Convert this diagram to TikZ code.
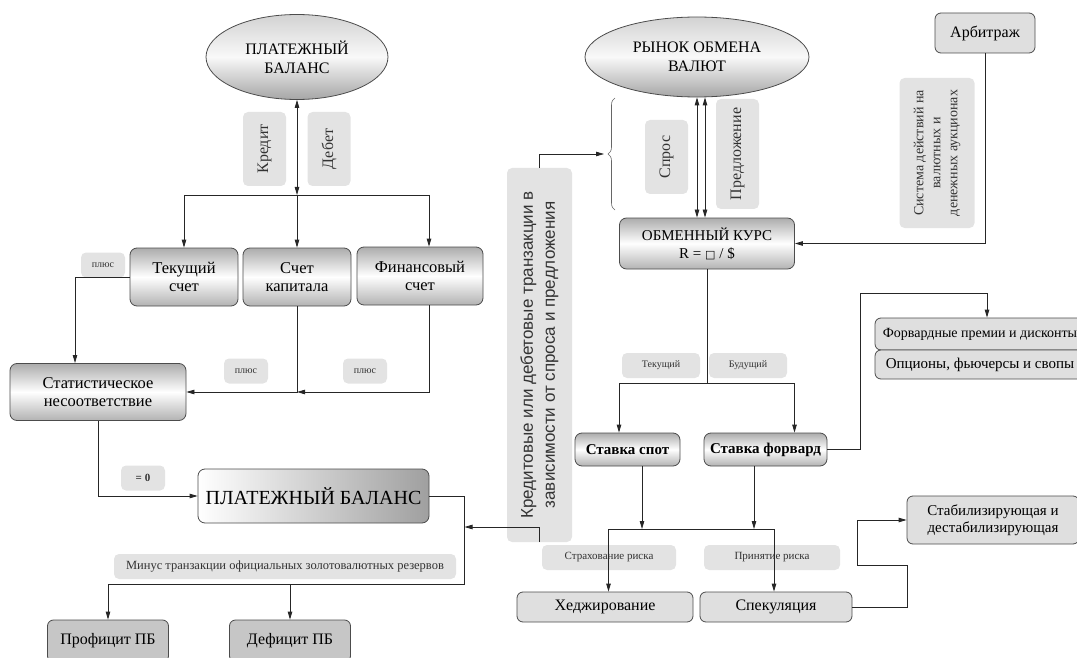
\documentclass[tikz,border=0pt]{standalone}
\usepackage{fontspec}
\setmainfont{Liberation Serif}
\newfontfamily\labelsans{Liberation Sans}
\newfontfamily\glyphfont{DejaVu Sans}
\usepackage{tikz}
\usetikzlibrary{shapes,arrows.meta,positioning,calc,decorations.pathreplacing}

\begin{document}
\begin{tikzpicture}[x=1pt, y=-1pt,
    line/.style={draw=black!85, line width=0.8pt},
    conn/.style={line, -{Triangle[length=8pt,width=4.5pt]}},
    biconn/.style={line, {Triangle[length=8pt,width=4.5pt]}-{Triangle[length=8pt,width=4.5pt]}},
    gbox/.style={rectangle, rounded corners=7, draw=black!70, line width=0.8pt,
        top color=gray!65, bottom color=gray!60, middle color=white,
        align=center, inner sep=1pt, font=\fontsize{16.5}{17.5}\selectfont},
    oval/.style={ellipse, draw=black!70, line width=0.8pt,
        top color=gray!35, bottom color=gray!70, middle color=white!95!gray,
        align=center, inner sep=1pt, font=\fontsize{16}{19}\selectfont},
    fbox/.style={rectangle, rounded corners=6, draw=black!70, line width=0.8pt,
        fill=gray!25, align=center, inner sep=1pt, font=\fontsize{16}{17}\selectfont},
    lbl/.style={rectangle, rounded corners=5, fill=gray!22, text=black!80,
        align=center, inner sep=1pt, font=\fontsize{10}{12}\selectfont},
    vlbl/.style={lbl, rotate=90, font=\fontsize{16}{18}\selectfont}
]
    \useasboundingbox (0,0) rectangle (1077,658);
    \clip (0,0) rectangle (1077,658);

    % Balance of payments, top
    \node [oval, minimum width=182, minimum height=85] (pbOval) at (297,57) {ПЛАТЕЖНЫЙ\\БАЛАНС};
    \node [vlbl, minimum width=74, minimum height=43] (lblCredit) at (264.5,149) {Кредит};
    \node [vlbl, minimum width=74, minimum height=43] (lblDebit) at (329,149) {Дебет};

    % Accounts
    \node [gbox, minimum width=108, minimum height=58] (curAcc) at (184,277) {Текущий\\счет};
    \node [gbox, minimum width=108, minimum height=58] (capAcc) at (297,277) {Счет\\капитала};
    \node [gbox, minimum width=126, minimum height=58] (finAcc) at (420,276) {Финансовый\\счет};
    \node [lbl, minimum width=44, minimum height=25] (plusCur) at (103,265) {плюс};
    \node [lbl, minimum width=44, minimum height=25] (plusCap) at (246,371) {плюс};
    \node [lbl, minimum width=44, minimum height=25] (plusFin) at (365,371) {плюс};

    \node [gbox, minimum width=176, minimum height=57] (statDisc) at (98,392) {Статистическое\\несоответствие};
    \node [lbl, minimum width=44, minimum height=25, font=\fontsize{11}{12}\selectfont\bfseries] (eqZero) at (143,478) {= 0};
    \node [gbox, minimum width=231, minimum height=54, shading angle=0, left color=white, right color=gray!75,
        font=\fontsize{20}{22}\selectfont] (pbBox) at (313.5,496) {ПЛАТЕЖНЫЙ БАЛАНС};
    \node [lbl, minimum width=342, minimum height=25, font=\fontsize{12.5}{14}\selectfont] (minusRes) at (285,566.5)
        {Минус транзакции официальных золотовалютных резервов};
    \node [fbox, fill=gray!45, minimum width=121, minimum height=42] (surplus) at (108,641) {Профицит ПБ};
    \node [fbox, fill=gray!45, minimum width=121, minimum height=42] (deficit) at (290,641) {Дефицит ПБ};

    % Middle label
    \node [lbl, rotate=90, minimum width=374, minimum height=65, font=\labelsans\fontsize{17}{22}\selectfont]
        (transLbl) at (539.5,355) {Кредитовые или дебетовые транзакции в\\зависимости от спроса и предложения};

    % Foreign exchange market
    \node [oval, minimum width=224, minimum height=80] (fxOval) at (697,57) {РЫНОК ОБМЕНА\\ВАЛЮТ};
    \node [vlbl, minimum width=74, minimum height=43] (lblDemand) at (666.5,157) {Спрос};
    \node [vlbl, minimum width=110, minimum height=43] (lblSupply) at (737.5,154) {Предложение};
    \node [gbox, minimum width=175, minimum height=51, font=\fontsize{15}{18}\selectfont] (fxRate) at (707,243.5)
        {ОБМЕННЫЙ КУРС\\R = {\glyphfont\fontsize{11}{12}\selectfont □} / \$};
    \node [fbox, minimum width=100, minimum height=40] (arbitr) at (985,33) {Арбитраж};
    \node [lbl, rotate=90, minimum width=150, minimum height=75, font=\fontsize{14}{17}\selectfont]
        (lblSystem) at (937,153) {Система действий на\\валютных и\\денежных аукционах};

    % Rates
    \node [lbl, minimum width=78, minimum height=25] (lblCurrent) at (661,365.5) {Текущий};
    \node [lbl, minimum width=78, minimum height=25] (lblFuture) at (748,365.5) {Будущий};
    \node [gbox, minimum width=105, minimum height=33, font=\fontsize{15}{17}\selectfont\bfseries] (spotRate) at (627.5,449.5) {Ставка спот};
    \node [gbox, minimum width=123, minimum height=33, font=\fontsize{15}{17}\selectfont\bfseries] (fwdRate) at (765.5,449.5) {Ставка форвард};
    \node [fbox, minimum width=210, minimum height=32, font=\fontsize{14}{17}\selectfont] (fwdPrem) at (980,334) {Форвардные премии и дисконты};
    \node [fbox, minimum width=210, minimum height=29, font=\fontsize{15}{17}\selectfont] (options) at (980,364.5) {Опционы, фьючерсы и свопы};

    % Risk
    \node [lbl, minimum width=134, minimum height=25, font=\fontsize{11}{12}\selectfont] (lblHedge) at (609,557.5) {Страхование риска};
    \node [lbl, minimum width=136, minimum height=25, font=\fontsize{11}{12}\selectfont] (lblRisk) at (772,557.5) {Принятие риска};
    \node [fbox, minimum width=176, minimum height=30] (hedging) at (605,607) {Хеджирование};
    \node [fbox, minimum width=152, minimum height=30] (specul) at (776,607) {Спекуляция};
    \node [fbox, minimum width=172, minimum height=48, font=\fontsize{15}{17}\selectfont] (stabil) at (993,520) {Стабилизирующая и\\дестабилизирующая};

    % Junctions
    \coordinate (splitM) at (297,195);
    \coordinate (splitL) at (184,195);
    \coordinate (splitR) at (429,195);
    \coordinate (statIn) at (75,363);
    \coordinate (capJoin) at (297,392);
    \coordinate (resTurn) at (464.5,584);
    \coordinate (resL) at (108,584);
    \coordinate (resIn) at (464.5,527);
    \coordinate (braceTip) at (604,154);
    \coordinate (rateSplit) at (707,383);
    \coordinate (fwdTurn) at (860,293);
    \coordinate (riskL) at (608.5,529);
    \coordinate (riskR) at (774,529);

    % Connectors, left part
    \draw [biconn] (pbOval.south) -- (splitM);
    \draw [line] (splitL) -- (splitR);
    \draw [conn] (splitL) -- (curAcc.north);
    \draw [conn] (splitM) -- (capAcc.north);
    \draw [conn] (splitR) -- (splitR |- finAcc.north);
    \draw [conn] (curAcc.west) -| (statIn);
    \draw [conn] (capAcc.south) |- (statDisc.east);
    \draw [conn] (finAcc.south -| splitR) |- (capJoin);
    \draw [conn] (statDisc.south) |- (pbBox.west);
    \draw [line] (pbBox.east) -| (resTurn) -- (resL);
    \draw [conn] (resL) -- (surplus.north);
    \draw [conn] (resTurn -| deficit.north) -- (deficit.north);
    \draw [conn] (transLbl.west) |- (resIn);
    \draw [conn] (transLbl.east) |- (braceTip);

    % Brace
    \draw [draw=black!60, line width=0.6pt, decorate, decoration={brace, amplitude=7pt}] (615,210) -- (615,98);

    % Connectors, right part
    \draw [biconn] (fxOval.south) -- (fxOval.south |- fxRate.north);
    \draw [biconn] ([xshift=8pt]fxOval.south) -- ([xshift=8pt]fxOval.south |- fxRate.north);
    \draw [conn] (arbitr.south) |- (fxRate.east);
    \draw [line] (fxRate.south) -- (rateSplit);
    \draw [conn] (rateSplit) -| ([xshift=-8.5pt]spotRate.north);
    \draw [conn] (rateSplit) -| ([xshift=29pt]fwdRate.north);
    \draw [conn] (fwdRate.east) -| (fwdTurn) -| ([xshift=7pt]fwdPrem.north);
    \draw [line] (riskL) -- (riskR);
    \draw [conn] ([xshift=14.5pt]spotRate.south) -- ([xshift=14.5pt]spotRate.south |- riskL);
    \draw [conn] ([xshift=-11.5pt]fwdRate.south) -- ([xshift=-11.5pt]fwdRate.south |- riskL);
    \draw [conn] (riskL) -- (riskL |- hedging.north);
    \draw [conn] (riskR) -- (riskR |- specul.north);
    \draw [conn] (specul.east) -- ++(55,0) -- ++(0,-41.3) -- ++(-50,0) |- (stabil.west);

\end{tikzpicture}
\end{document}
